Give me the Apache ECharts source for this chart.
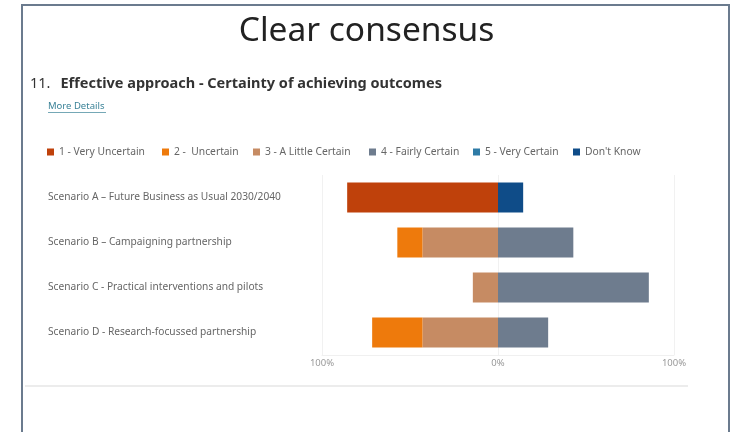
<!DOCTYPE html>
<html>
<head>
<meta charset="utf-8">
<script src="https://cdn.jsdelivr.net/npm/echarts@6/dist/echarts.min.js"></script>
<style>
    html, body { margin: 0; padding: 0; background: #fff; }
    #chart { width: 733px; height: 432px; }
</style>
</head>
<body>
<div id="chart"></div>
<script>
var categories = [
    'Scenario A – Future Business as Usual 2030/2040',
    'Scenario B – Campaigning partnership',
    'Scenario C - Practical interventions and pilots',
    'Scenario D - Research-focussed partnership'
];
var seriesNames = ['1 - Very Uncertain', '2 -  Uncertain', '3 - A Little Certain', '4 - Fairly Certain', '5 - Very Certain', "Don't Know"];

// percent of responses per scenario
var veryUncertain = [85.7, 0, 0, 0];
var uncertain = [0, 14.3, 0, 28.6];
var littleCertain = [0, 42.9, 14.3, 42.9];
var fairlyCertain = [0, 42.8, 85.7, 28.5];
var veryCertain = [0, 0, 0, 0];
var dontKnow = [14.3, 0, 0, 0];

var xTicks = [-100, 0, 100];

var colors = ['#bf410b', '#ee7a0c', '#c68b63', '#6e7c8e', '#2e7ba6', '#0f4c88'];
var legendX = [47, 162, 253, 369, 473, 573];

var font = '"Noto Sans", "Open Sans", sans-serif';

function neg(arr) {
    return arr.map(function (v) { return -v; });
}

var chart = echarts.init(document.getElementById('chart'));

// negative side is built from the middle out: 3, 2, 1
var seriesData = [
    { name: seriesNames[2], data: neg(littleCertain), color: colors[2] },
    { name: seriesNames[1], data: neg(uncertain), color: colors[1] },
    { name: seriesNames[0], data: neg(veryUncertain), color: colors[0] },
    { name: seriesNames[3], data: fairlyCertain, color: colors[3] },
    { name: seriesNames[4], data: veryCertain, color: colors[4] },
    { name: seriesNames[5], data: dontKnow, color: colors[5] }
];

var series = seriesData.map(function (s) {
    return {
        name: s.name,
        type: 'bar',
        stack: 'total',
        barWidth: 30,
        data: s.data,
        itemStyle: { color: s.color },
        emphasis: { disabled: true }
    };
});

var legends = seriesNames.map(function (name, i) {
    return {
        data: [name],
        left: legendX[i],
        top: 147,
        icon: 'rect',
        itemWidth: 7,
        itemHeight: 7,
        itemGap: 4,
        padding: 0,
        selectedMode: false,
        textStyle: { fontFamily: font, fontSize: 10.3, color: '#666' }
    };
});

var option = {
    animation: false,
    title: [
        {
            text: 'Clear consensus',
            left: 'center',
            top: 14,
            padding: 0,
            textStyle: { fontFamily: font, fontSize: 33.5, fontWeight: 'normal', color: '#222' }
        },
        {
            text: '{n|11.}  {b|Effective approach - Certainty of achieving outcomes}',
            left: 30,
            top: 75,
            padding: 0,
            textStyle: {
                rich: {
                    n: { fontFamily: font, fontSize: 14.5, fontWeight: 'normal', color: '#333' },
                    b: { fontFamily: font, fontSize: 14.5, fontWeight: 'bold', color: '#333' }
                }
            }
        },
        {
            text: 'More Details',
            left: 48,
            top: 101,
            padding: 0,
            textStyle: { fontFamily: font, fontSize: 9.5, fontWeight: 'normal', color: '#3a8297' }
        }
    ],
    legend: legends,
    grid: { left: 322, right: 59, top: 175, bottom: 77 },
    xAxis: {
        type: 'value',
        min: xTicks[0],
        max: xTicks[xTicks.length - 1],
        interval: 100,
        axisLine: { show: true, lineStyle: { color: '#f0f0f0' } },
        axisTick: { show: false },
        splitLine: { lineStyle: { color: '#f1f1f1' } },
        axisLabel: {
            margin: 3,
            fontFamily: font,
            fontSize: 9.5,
            color: '#999',
            formatter: function (v) { return Math.abs(v) + '%'; }
        }
    },
    yAxis: {
        type: 'category',
        inverse: true,
        data: categories,
        axisLine: { show: false },
        axisTick: { show: false },
        axisLabel: {
            align: 'left',
            margin: 274,
            fontFamily: font,
            fontSize: 10.2,
            color: '#666'
        }
    },
    graphic: [
        {
            type: 'polyline',
            shape: { points: [[22, 432], [22, 5], [729, 5], [729, 432]] },
            style: { stroke: '#6b7b8e', lineWidth: 2, fill: null }
        },
        {
            type: 'line',
            shape: { x1: 25, y1: 386, x2: 688, y2: 386 },
            style: { stroke: '#ececec', lineWidth: 2 }
        },
        {
            type: 'line',
            shape: { x1: 48, y1: 112.5, x2: 106, y2: 112.5 },
            style: { stroke: '#3a8297', lineWidth: 0.7 }
        }
    ],
    series: series
};

chart.setOption(option);
</script>
</body>
</html>
